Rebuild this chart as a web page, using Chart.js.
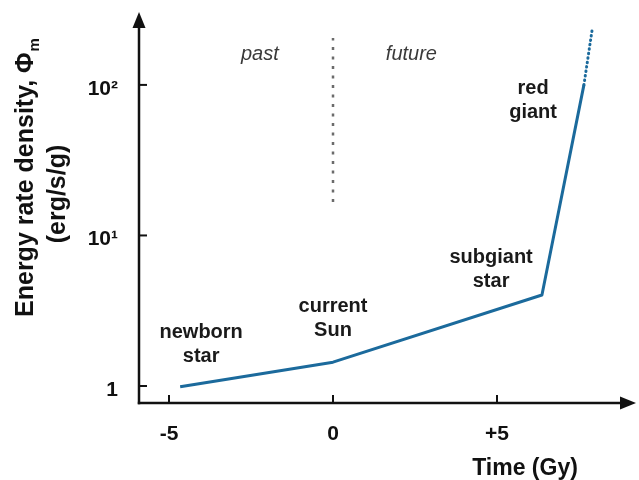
<!DOCTYPE html>
<html>
<head>
<meta charset="utf-8">
<script src="https://cdn.jsdelivr.net/npm/chart.js"></script>
<style>
  html, body { margin: 0; padding: 0; background: #ffffff; }
  #wrap { width: 639px; height: 480px; }
</style>
</head>
<body>
<div id="wrap"><canvas id="energyChart" width="639" height="480"></canvas></div>
<script>
// Dados
const timeGy = [-4.66, 0, 6.37, 7.65];
const energyRate = [0.99, 1.44, 4.02, 100];

// trecho pontilhado (extrapolação gigante vermelha)
const extrapTime = [7.65, 7.90];
const extrapRate = [100, 232];

// linha "agora" (tempo 0)
const nowTime = [0, 0];
const nowRate = [16.7, 205];

const xTickValues = [-5, 0, 5];
const xTickLabels = ['-5', '0', '+5'];
const yTickValues = [1, 10, 100];
const yTickLabels = ['1', '10\u00B9', '10\u00B2'];

const stageLabels = [['newborn', 'star'], ['current', 'Sun'], ['subgiant', 'star'], ['red', 'giant']];
const stageAt = [[-4.02, 2.08], [0, 3.10], [4.82, 6.57], [6.10, 87.1]];

const eraLabels = ['past', 'future'];
const eraAt = [[-2.23, 146], [2.39, 146]];

const FONT = '"Liberation Sans", Arial, Helvetica, sans-serif';
const INK = '#111111';
const LINE_BLUE = '#1b6a9c';

const toPoints = (xs, ys) => xs.map((x, i) => ({ x: x, y: ys[i] }));

// Eixos com setas + marcas de escala + textos
const axesPlugin = {
    id: 'axesArrows',
    beforeDatasetsDraw(chart) {
        const { ctx, chartArea: a, scales } = chart;
        ctx.save();
        ctx.strokeStyle = INK;
        ctx.fillStyle = INK;
        ctx.lineWidth = 2.5;
        ctx.lineCap = 'butt';

        // eixo y
        ctx.beginPath();
        ctx.moveTo(a.left, a.bottom + 1.2);
        ctx.lineTo(a.left, a.top + 14);
        ctx.stroke();
        ctx.beginPath();
        ctx.moveTo(a.left, a.top);
        ctx.lineTo(a.left - 6.5, a.top + 16);
        ctx.lineTo(a.left + 6.5, a.top + 16);
        ctx.closePath();
        ctx.fill();

        // eixo x
        ctx.beginPath();
        ctx.moveTo(a.left - 1.2, a.bottom);
        ctx.lineTo(a.right - 14, a.bottom);
        ctx.stroke();
        ctx.beginPath();
        ctx.moveTo(a.right, a.bottom);
        ctx.lineTo(a.right - 16, a.bottom - 6.5);
        ctx.lineTo(a.right - 16, a.bottom + 6.5);
        ctx.closePath();
        ctx.fill();

        // marcas
        ctx.lineWidth = 2;
        scales.y.ticks.forEach(t => {
            const py = scales.y.getPixelForValue(t.value);
            ctx.beginPath();
            ctx.moveTo(a.left, py);
            ctx.lineTo(a.left + 8, py);
            ctx.stroke();
        });
        scales.x.ticks.forEach(t => {
            const px = scales.x.getPixelForValue(t.value);
            ctx.beginPath();
            ctx.moveTo(px, a.bottom);
            ctx.lineTo(px, a.bottom - 8);
            ctx.stroke();
        });
        ctx.restore();
    },
    afterDraw(chart) {
        const { ctx, scales } = chart;
        ctx.save();

        // estágios da estrela
        ctx.fillStyle = '#1a1a1a';
        ctx.font = 'bold 20px ' + FONT;
        ctx.textAlign = 'center';
        ctx.textBaseline = 'alphabetic';
        stageLabels.forEach((lines, i) => {
            const px = scales.x.getPixelForValue(stageAt[i][0]);
            const py = scales.y.getPixelForValue(stageAt[i][1]);
            lines.forEach((txt, k) => ctx.fillText(txt, px, py + k * 24));
        });

        // passado / futuro
        ctx.fillStyle = '#3a3a3a';
        ctx.font = 'italic 20px ' + FONT;
        eraLabels.forEach((txt, i) => {
            ctx.fillText(txt, scales.x.getPixelForValue(eraAt[i][0]), scales.y.getPixelForValue(eraAt[i][1]));
        });

        // título eixo x
        ctx.fillStyle = INK;
        ctx.font = 'bold 23px ' + FONT;
        ctx.fillText('Time (Gy)', 525, 475);

        // título eixo y (rotacionado, com subscrito)
        ctx.font = 'bold 25px ' + FONT;
        const main = 'Energy rate density, \u03A6';
        const subFont = 'bold 15px ' + FONT;
        const wMain = ctx.measureText(main).width;
        ctx.font = subFont;
        const wSub = ctx.measureText('m').width;
        ctx.save();
        ctx.translate(33, 178);
        ctx.rotate(-Math.PI / 2);
        ctx.textAlign = 'left';
        const start = -(wMain + wSub) / 2;
        ctx.font = 'bold 25px ' + FONT;
        ctx.fillText(main, start, 0);
        ctx.font = subFont;
        ctx.fillText('m', start + wMain + 1, 6);
        ctx.restore();

        ctx.save();
        ctx.translate(65, 194);
        ctx.rotate(-Math.PI / 2);
        ctx.textAlign = 'center';
        ctx.font = 'bold 25px ' + FONT;
        ctx.fillText('(erg/s/g)', 0, 0);
        ctx.restore();

        ctx.restore();
    }
};

const ctx = document.getElementById('energyChart').getContext('2d');

const energyChart = new Chart(ctx, {
    type: 'line',
    data: {
        datasets: [
            {
                label: 'Energy rate density',
                data: toPoints(timeGy, energyRate),
                borderColor: LINE_BLUE,
                borderWidth: 3,
                pointRadius: 0,
                tension: 0,
                borderJoinStyle: 'round',
                fill: false
            },
            {
                label: 'Red giant (extrapolated)',
                data: toPoints(extrapTime, extrapRate),
                borderColor: LINE_BLUE,
                borderWidth: 3,
                borderDash: [0.5, 4],
                borderCapStyle: 'round',
                pointRadius: 0,
                fill: false
            },
            {
                label: 'Now',
                data: toPoints(nowTime, nowRate),
                borderColor: '#6b6b6b',
                borderWidth: 2.5,
                borderDash: [3, 6.5],
                pointRadius: 0,
                fill: false
            }
        ]
    },
    options: {
        responsive: false,
        animation: false,
        events: [],
        layout: {
            padding: { left: 0, right: 3, top: 12, bottom: 0 }
        },
        plugins: {
            legend: { display: false },
            tooltip: { enabled: false },
            title: { display: false }
        },
        scales: {
            x: {
                type: 'linear',
                min: -5.915,
                max: 9.238,
                grid: { display: false, drawTicks: false },
                border: { display: false },
                afterBuildTicks: s => { s.ticks = xTickValues.map(v => ({ value: v })); },
                afterFit: s => { s.height = 77; s.paddingLeft = 0; s.paddingRight = 0; },
                ticks: {
                    padding: 19,
                    color: INK,
                    font: { family: FONT, size: 21, weight: 'bold' },
                    maxRotation: 0,
                    callback: v => xTickLabels[xTickValues.indexOf(v)]
                }
            },
            y: {
                type: 'logarithmic',
                min: 0.771,
                max: 305,
                grid: { display: false, drawTicks: false },
                border: { display: false },
                afterBuildTicks: s => { s.ticks = yTickValues.map(v => ({ value: v })); },
                afterFit: s => { s.width = 139; s.paddingTop = 0; s.paddingBottom = 0; },
                ticks: {
                    padding: 21,
                    labelOffset: 4,
                    color: INK,
                    font: { family: FONT, size: 21, weight: 'bold' },
                    callback: v => yTickLabels[yTickValues.indexOf(v)]
                }
            }
        }
    },
    plugins: [axesPlugin]
});
</script>
</body>
</html>
